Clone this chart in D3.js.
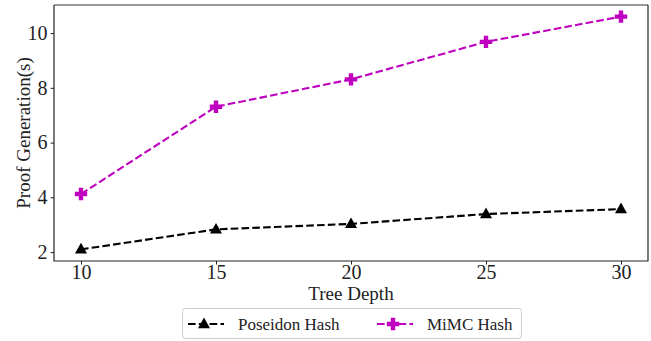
<!DOCTYPE html>
<html>
<head>
<meta charset="utf-8">
<script src="https://cdn.jsdelivr.net/npm/d3@7"></script>
<style>
  body { margin: 0; background: #fff; }
  text { font-family: "Liberation Serif", "DejaVu Serif", serif; fill: #222; }
</style>
</head>
<body>
<svg id="chart" width="651" height="341"></svg>
<script>
// data
const depths = [10, 15, 20, 25, 30];
const poseidon = [2.1, 2.83, 3.03, 3.39, 3.57];
const mimc = [4.12, 7.31, 8.31, 9.68, 10.6];
const xTicks = [10, 15, 20, 25, 30];
const yTicks = [2, 4, 6, 8, 10];

const margin = { top: 5, right: 3, bottom: 80, left: 54 };
const width = 651 - margin.left - margin.right;
const height = 341 - margin.top - margin.bottom;

const svg = d3.select('#chart');
const g = svg.append('g').attr('transform', `translate(${margin.left},${margin.top})`);

// matplotlib-like 5% margins
const xs = d3.scaleLinear().domain([9, 31]).range([0, width]);
const yMin = 2.1, yMax = 10.6, pad = (yMax - yMin) * 0.05;
const ys = d3.scaleLinear().domain([yMin - pad, yMax + pad]).range([height, 0]);

// axes
const xAxis = g.append('g')
  .attr('transform', `translate(0,${height})`)
  .call(d3.axisBottom(xs).tickValues(xTicks).tickSize(3.5).tickPadding(3));
const yAxis = g.append('g')
  .call(d3.axisLeft(ys).tickValues(yTicks).tickSize(3.5).tickPadding(3));
[xAxis, yAxis].forEach(a => {
  a.select('.domain').remove();
  a.selectAll('text').style('font-size', '20px').attr('fill', '#222');
  a.selectAll('line').attr('stroke', '#222');
});
xAxis.selectAll('text').attr('y', 17.5).attr('dy', 0);

// frame
g.append('line').attr('x1', 0).attr('x2', width).attr('y1', 0).attr('y2', 0)
  .attr('stroke', '#777').attr('stroke-width', 1.5);
g.append('path')
  .attr('d', `M0,0V${height}H${width}V0`)
  .attr('fill', 'none').attr('stroke', '#222').attr('stroke-width', 1.2);

const series = [
  { name: 'Poseidon Hash', values: poseidon, color: '#000', marker: 'tri' },
  { name: 'MiMC Hash', values: mimc, color: '#bf00bf', marker: 'plus' }
];

const line = d3.line().x((d, i) => xs(depths[i])).y(d => ys(d));

function marker(sel, type, color) {
  if (type === 'tri') {
    sel.append('path').attr('d', 'M0,-6.5L6,4.2L-6,4.2Z').attr('fill', color);
  } else {
    sel.append('path')
      .attr('d', 'M-2.2,-6.2H2.2V-2.2H6.2V2.2H2.2V6.2H-2.2V2.2H-6.2V-2.2H-2.2Z')
      .attr('fill', color);
  }
}

series.forEach(s => {
  g.append('path').datum(s.values)
    .attr('d', line)
    .attr('fill', 'none')
    .attr('stroke', s.color)
    .attr('stroke-width', 2.1)
    .attr('stroke-dasharray', '7.6,3.2');
  s.values.forEach((v, i) => {
    const m = g.append('g').attr('transform', `translate(${xs(depths[i])},${ys(v)})`);
    marker(m, s.marker, s.color);
  });
});

// axis labels
svg.append('text')
  .attr('x', margin.left + xs(20)).attr('y', 300)
  .attr('text-anchor', 'middle').style('font-size', '19px')
  .text('Tree Depth');
svg.append('text')
  .attr('transform', `translate(30,${margin.top + height / 2}) rotate(-90)`)
  .attr('text-anchor', 'middle').style('font-size', '19px')
  .text('Proof Generation(s)');

// legend
const lg = svg.append('g');
lg.append('rect')
  .attr('x', 182.5).attr('y', 308.5).attr('width', 339).attr('height', 30)
  .attr('rx', 3).attr('fill', '#fff').attr('stroke', '#ccc');
const legendX = [188, 377];
series.forEach((s, i) => {
  const x0 = legendX[i];
  lg.append('line')
    .attr('x1', x0).attr('x2', x0 + 36).attr('y1', 324).attr('y2', 324)
    .attr('stroke', s.color).attr('stroke-width', 2.1)
    .attr('stroke-dasharray', '7.6,3.2');
  const m = lg.append('g').attr('transform', `translate(${x0 + 16},324)`);
  marker(m, s.marker, s.color);
  lg.append('text')
    .attr('x', x0 + 50).attr('y', 330)
    .style('font-size', '17px')
    .text(s.name);
});
</script>
</body>
</html>
